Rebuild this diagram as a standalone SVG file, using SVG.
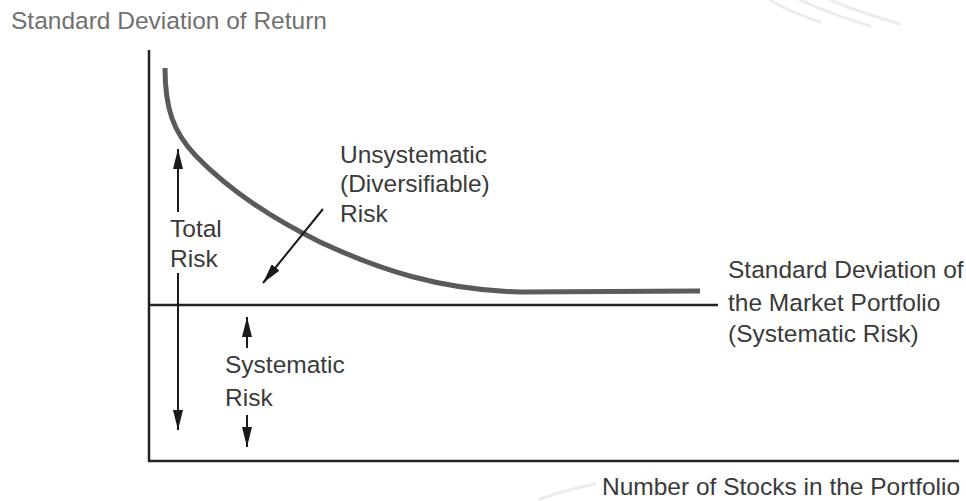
<svg xmlns="http://www.w3.org/2000/svg" width="966" height="501" viewBox="0 0 966 501">
  <style>
    .t { font-family: "Liberation Sans", Arial, sans-serif; font-size: 24.5px; fill: #3a3a3a; }
    .title { fill: #707070; }
    .axis { stroke: #222; stroke-width: 2.5; fill: none; }
    .arrow { stroke: #1a1a1a; stroke-width: 2; fill: none; marker-end: url(#head); }
    .wm { stroke: #ececec; stroke-width: 3; fill: none; stroke-linecap: round; }
  </style>
  <defs>
    <marker id="head" markerUnits="userSpaceOnUse" markerWidth="20" markerHeight="10" refX="20" refY="5" orient="auto">
      <path d="M0,0 L20,5 L0,10 Z" fill="#1a1a1a"/>
    </marker>
  </defs>
  <rect width="966" height="501" fill="#ffffff"/>

  <g id="watermark">
    <path class="wm" d="M770,0 Q790,12 820,22"/>
    <path class="wm" d="M800,0 Q830,14 870,26"/>
    <path class="wm" d="M830,0 Q860,12 900,24"/>
    <path class="wm" d="M540,499 Q565,490 595,484" stroke-width="2"/>
  </g>

  <g id="axes">
    <line class="axis" x1="149" y1="50" x2="149" y2="461"/>
    <line class="axis" x1="148" y1="461" x2="959" y2="461"/>
    <line class="axis" x1="148" y1="305" x2="718" y2="305"/>
  </g>

  <g id="curve">
    <path d="M165,68 C165,108 173,132 196,156 C226,187 265,215 320,242 C380,270 440,290 520,292 L700,291" fill="none" stroke="#5a5a5a" stroke-width="5" stroke-linecap="butt"/>
  </g>

  <g id="connectors">
    <line class="arrow" x1="178" y1="212" x2="178" y2="149"/>
    <line class="arrow" x1="178" y1="273" x2="178" y2="430"/>
    <line class="arrow" x1="323" y1="209" x2="263" y2="283"/>
    <line class="arrow" x1="247" y1="348" x2="247" y2="317"/>
    <line class="arrow" x1="247" y1="415" x2="247" y2="447"/>
  </g>

  <g id="title-y">
    <text class="t title" x="11" y="29">Standard Deviation of Return</text>
  </g>
  <g id="unsystematic">
    <text class="t" x="340" y="163">Unsystematic</text>
    <text class="t" x="340" y="192">(Diversifiable)</text>
    <text class="t" x="340" y="222">Risk</text>
  </g>
  <g id="total-risk">
    <text class="t" x="170" y="237">Total</text>
    <text class="t" x="170" y="267">Risk</text>
  </g>
  <g id="systematic">
    <text class="t" x="225" y="373">Systematic</text>
    <text class="t" x="225" y="406">Risk</text>
  </g>
  <g id="market">
    <text class="t" x="728" y="278">Standard Deviation of</text>
    <text class="t" x="728" y="311">the Market Portfolio</text>
    <text class="t" x="728" y="342">(Systematic Risk)</text>
  </g>
  <g id="title-x">
    <text class="t" x="602" y="495">Number of Stocks in the Portfolio</text>
  </g>
</svg>
